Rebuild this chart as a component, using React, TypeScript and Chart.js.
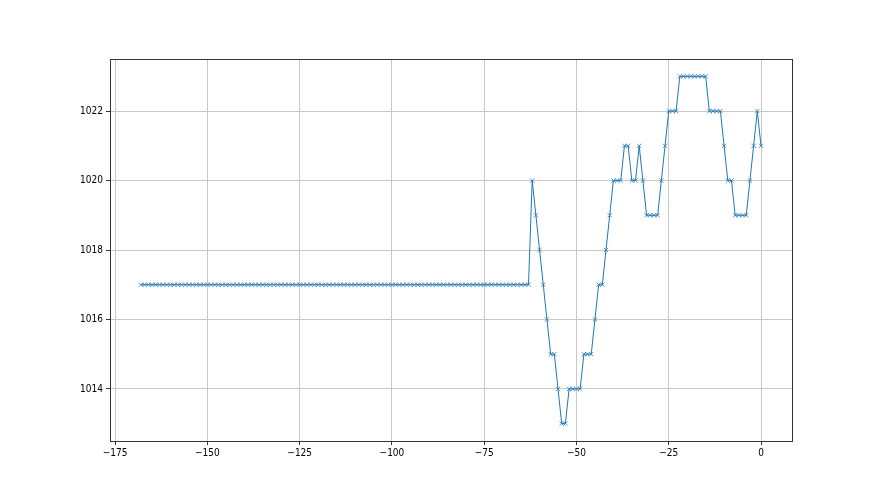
import React, { useEffect, useRef } from "react";
import { Chart, registerables } from "chart.js";

Chart.register(...registerables);

const HOURS: number[] = [
  -168, -167, -166, -165, -164, -163, -162, -161, -160, -159, -158, -157, -156, -155, -154, -153, -152, -151, -150, -149,
  -148, -147, -146, -145, -144, -143, -142, -141, -140, -139, -138, -137, -136, -135, -134, -133, -132, -131, -130, -129,
  -128, -127, -126, -125, -124, -123, -122, -121, -120, -119, -118, -117, -116, -115, -114, -113, -112, -111, -110, -109,
  -108, -107, -106, -105, -104, -103, -102, -101, -100, -99, -98, -97, -96, -95, -94, -93, -92, -91, -90, -89,
  -88, -87, -86, -85, -84, -83, -82, -81, -80, -79, -78, -77, -76, -75, -74, -73, -72, -71, -70, -69,
  -68, -67, -66, -65, -64, -63, -62, -61, -60, -59, -58, -57, -56, -55, -54, -53, -52, -51, -50, -49,
  -48, -47, -46, -45, -44, -43, -42, -41, -40, -39, -38, -37, -36, -35, -34, -33, -32, -31, -30, -29,
  -28, -27, -26, -25, -24, -23, -22, -21, -20, -19, -18, -17, -16, -15, -14, -13, -12, -11, -10, -9,
  -8, -7, -6, -5, -4, -3, -2, -1, 0,
];

const PRESSURE: number[] = [
  1017, 1017, 1017, 1017, 1017, 1017, 1017, 1017, 1017, 1017, 1017, 1017, 1017, 1017, 1017, 1017, 1017, 1017, 1017, 1017,
  1017, 1017, 1017, 1017, 1017, 1017, 1017, 1017, 1017, 1017, 1017, 1017, 1017, 1017, 1017, 1017, 1017, 1017, 1017, 1017,
  1017, 1017, 1017, 1017, 1017, 1017, 1017, 1017, 1017, 1017, 1017, 1017, 1017, 1017, 1017, 1017, 1017, 1017, 1017, 1017,
  1017, 1017, 1017, 1017, 1017, 1017, 1017, 1017, 1017, 1017, 1017, 1017, 1017, 1017, 1017, 1017, 1017, 1017, 1017, 1017,
  1017, 1017, 1017, 1017, 1017, 1017, 1017, 1017, 1017, 1017, 1017, 1017, 1017, 1017, 1017, 1017, 1017, 1017, 1017, 1017,
  1017, 1017, 1017, 1017, 1017, 1017, 1020, 1019, 1018, 1017, 1016, 1015, 1015, 1014, 1013, 1013, 1014, 1014, 1014, 1014,
  1015, 1015, 1015, 1016, 1017, 1017, 1018, 1019, 1020, 1020, 1020, 1021, 1021, 1020, 1020, 1021, 1020, 1019, 1019, 1019,
  1019, 1020, 1021, 1022, 1022, 1022, 1023, 1023, 1023, 1023, 1023, 1023, 1023, 1023, 1022, 1022, 1022, 1022, 1021, 1020,
  1020, 1019, 1019, 1019, 1019, 1020, 1021, 1022, 1021,
];

const X_TICKS: number[] = [-175, -150, -125, -100, -75, -50, -25, 0];
const Y_TICKS: number[] = [1014, 1016, 1018, 1020, 1022];

const fmt = (v: number) => (v < 0 ? "\u2212" + Math.abs(v) : String(v));

const TICK_FONT = { family: "'Liberation Sans Narrow', 'DejaVu Sans Condensed', sans-serif", size: 10 };

const framePlugin = {
  id: "frame",
  afterDraw(chart: any) {
    const { ctx, chartArea } = chart;
    ctx.save();
    ctx.strokeStyle = "#333333";
    ctx.lineWidth = 1;
    ctx.strokeRect(
      Math.round(chartArea.left) + 0.5,
      Math.round(chartArea.top) + 0.5,
      Math.round(chartArea.right - chartArea.left),
      Math.round(chartArea.bottom - chartArea.top)
    );
    ctx.restore();
  },
};

export default function App() {
  const ref = useRef<HTMLCanvasElement | null>(null);

  useEffect(() => {
    document.body.style.margin = "0";
    const canvas = ref.current;
    if (!canvas) return;
    const data = HOURS.map((h, i) => ({ x: h, y: PRESSURE[i] }));
    const chart = new Chart(canvas, {
      type: "scatter",
      data: {
        datasets: [
          {
            data,
            showLine: true,
            borderColor: "#1f77b4",
            borderWidth: 1,
            pointStyle: "crossRot",
            pointRadius: 3,
            pointBorderWidth: 1,
            pointBorderColor: "rgba(31,119,180,0.75)",
            pointBackgroundColor: "#1f77b4",
            pointHoverRadius: 3,
          },
        ],
      },
      options: {
        animation: false,
        responsive: false,
        maintainAspectRatio: false,
        layout: { padding: { left: 0, right: 88, top: 59, bottom: 0 } },
        plugins: { legend: { display: false }, tooltip: { enabled: false } },
        scales: {
          x: {
            type: "linear",
            min: -176.4,
            max: 8.4,
            afterFit: (s: any) => {
              s.height = 54;
            },
            afterBuildTicks: (s: any) => {
              s.ticks = X_TICKS.map((v) => ({ value: v }));
            },
            ticks: {
              autoSkip: false,
              maxRotation: 0,
              color: "#000000",
              padding: 2,
              font: TICK_FONT,
              callback: (v: any) => fmt(Number(v)),
            },
            grid: {
              color: "#c8c8c8",
              lineWidth: 1,
              tickLength: 4,
              tickColor: "#333333",
            },
            border: { display: false },
          },
          y: {
            type: "linear",
            min: 1012.5,
            max: 1023.5,
            afterFit: (s: any) => {
              s.width = 110;
            },
            afterBuildTicks: (s: any) => {
              s.ticks = Y_TICKS.map((v) => ({ value: v }));
            },
            ticks: {
              autoSkip: false,
              color: "#000000",
              padding: 3,
              font: TICK_FONT,
              callback: (v: any) => String(v),
            },
            grid: {
              color: "#c8c8c8",
              lineWidth: 1,
              tickLength: 4,
              tickColor: "#333333",
            },
            border: { display: false },
          },
        },
      },
      plugins: [framePlugin],
    });
    return () => chart.destroy();
  }, []);

  return (
    <div style={{ width: 880, height: 495, background: "#ffffff" }}>
      <canvas ref={ref} width={880} height={495} style={{ display: "block" }} />
    </div>
  );
}
